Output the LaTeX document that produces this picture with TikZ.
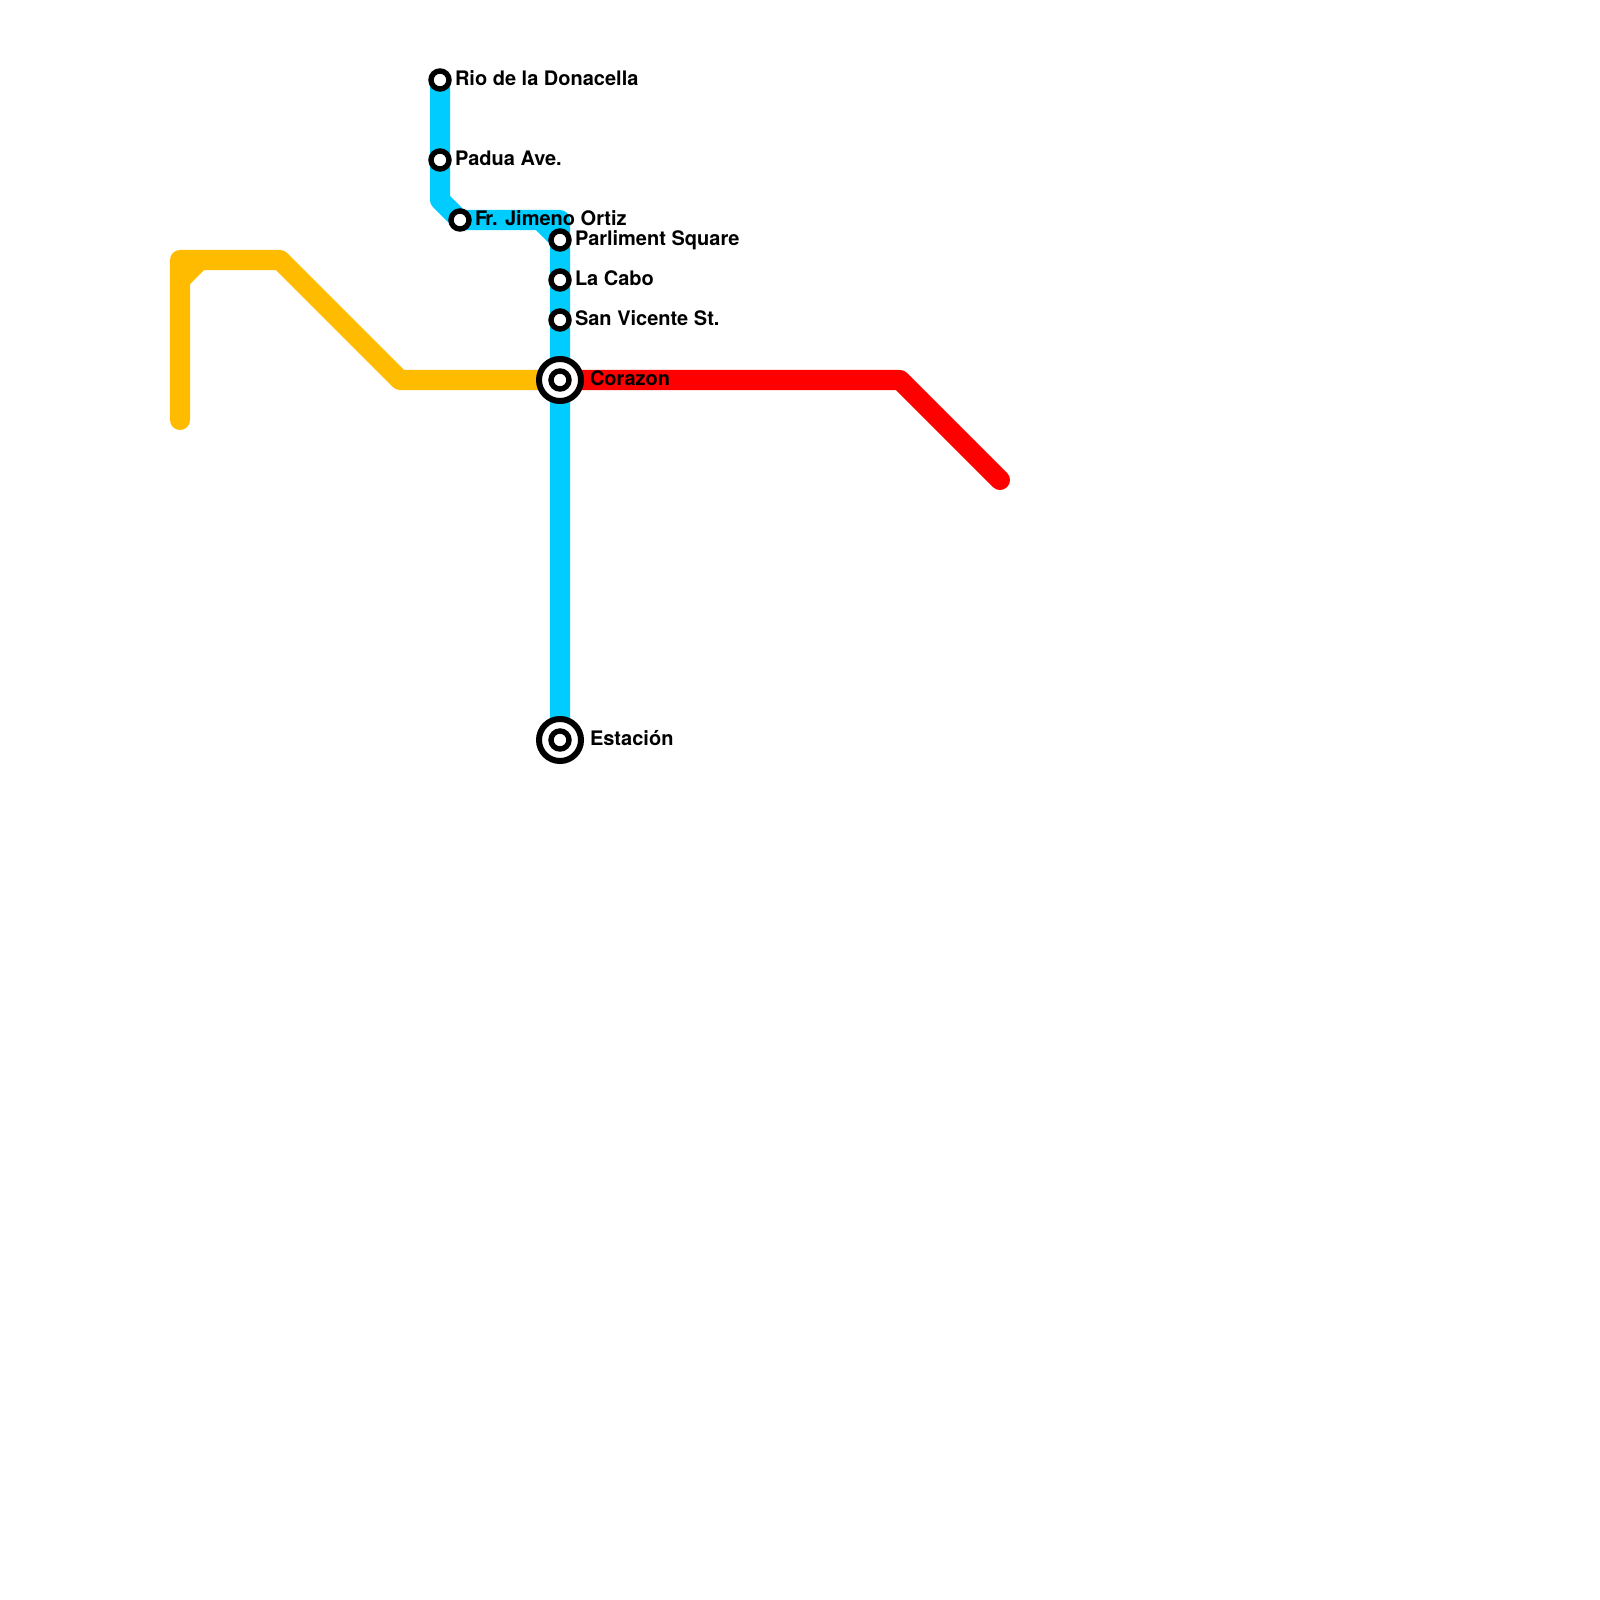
\documentclass[tikz,border=0pt]{standalone}
\usepackage{fontspec}
\setmainfont{TeX Gyre Heros}
\usetikzlibrary{backgrounds}
\definecolor{lineblue}{RGB}{0,204,255}
\definecolor{lineyellow}{RGB}{255,187,0}
\definecolor{linered}{RGB}{255,0,0}
\tikzset{
  metro/.style={line width=0.2cm,line cap=round,line join=round},
  stop/.style={circle,draw=black,fill=white,line width=0.054cm,minimum size=0.18cm,inner sep=0pt,outer sep=0pt},
  hub/.style={circle,draw=black,fill=white,line width=0.06cm,minimum size=0.42cm,inner sep=0pt,outer sep=0pt},
  lbl/.style={anchor=base west,inner sep=0pt,outer sep=0pt,font=\fontsize{5.69pt}{6.8pt}\selectfont\bfseries,text=black},
}
\begin{document}
\begin{tikzpicture}[x=0.01cm,y=-0.01cm]
\useasboundingbox (0,0) rectangle (1600,1600);
% hubs
\node[hub] (corazonhub) at (560,380) {};
\node[stop] (corazon) at (560,380) {};
\node[hub] (estacionhub) at (560,740) {};
\node[stop] (estacion) at (560,740) {};
% stops
\node[stop] (rio) at (440,80) {};
\node[stop] (padua) at (440,160) {};
\node[stop] (jimeno) at (460,220) {};
\node[stop] (parliment) at (560,240) {};
\node[stop] (cabo) at (560,280) {};
\node[stop] (vicente) at (560,320) {};
% free bends
\coordinate (b1) at (440,200);
\coordinate (b2) at (560,220);
\coordinate (b3) at (540,220);
\coordinate (y0) at (180,420);
\coordinate (y1) at (180,260);
\coordinate (y2) at (280,260);
\coordinate (y3) at (400,380);
\coordinate (y4) at (180,280);
\coordinate (y5) at (200,260);
\coordinate (r1) at (900,380);
\coordinate (r2) at (1000,480);
\begin{scope}[on background layer]
  \draw[metro,linered] (corazon.center) -- (r1) -- (r2);
  \draw[metro,lineyellow] (y0) -- (y1) -- (y2) -- (y3) -- (corazon.center);
  \draw[metro,lineyellow,line cap=butt] (y4) -- (y5);
  \draw[metro,lineblue] (rio.center) -- (b1) -- (jimeno.center) -- (b2) -- (estacion.center);
  \draw[metro,lineblue,line cap=butt] (b3) -- (parliment.center);
\end{scope}
% labels
\node[lbl] (lrio) at (455,85.5) {Rio de la Donacella};
\node[lbl] (lpadua) at (455,165.5) {Padua Ave.};
\node[lbl] (ljimeno) at (475,225.5) {F\kern-0.5pt r. Jimeno Ortiz};
\node[lbl] (lparliment) at (575,245.5) {Parliment Square};
\node[lbl] (lcabo) at (575,285.5) {La Cabo};
\node[lbl] (lvicente) at (575,325.5) {San Vicente St.};
\node[lbl] (lcorazon) at (590,385.5) {Corazon};
\node[lbl] (lestacion) at (590,745.5) {Estación};
\end{tikzpicture}
\end{document}
